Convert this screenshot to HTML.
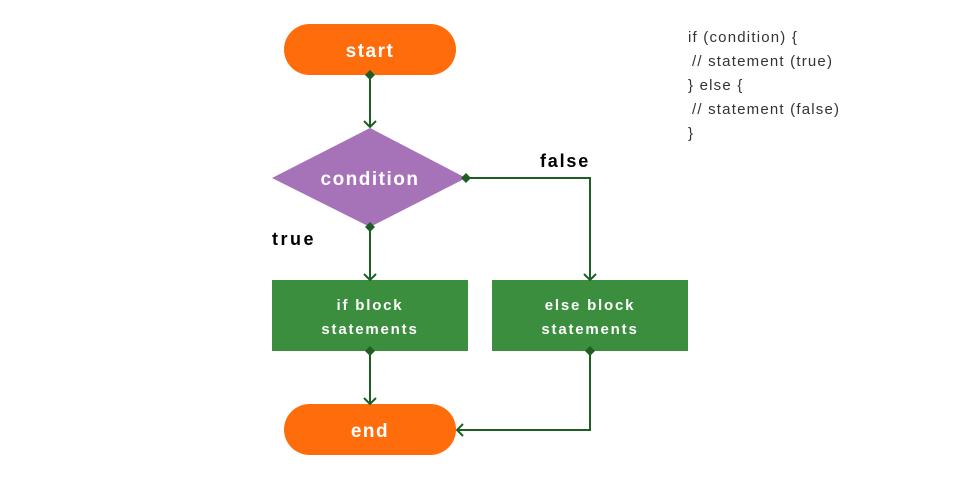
<!DOCTYPE html>
<html><head><style>body{margin:0;background:#fff}</style></head><body>
<svg width="960" height="480" xmlns="http://www.w3.org/2000/svg" font-family="Liberation Sans, sans-serif">
<rect width="960" height="480" fill="#fff"/>
<rect x="284" y="24" width="172" height="51" rx="25.5" fill="#ff6c0c"/>
<text x="370" y="57" text-anchor="middle" font-size="19" font-weight="bold" fill="#fff" letter-spacing="1.5">start</text>
<polygon points="370,128 466,178 370,227 272,178" fill="#a672b8"/>
<text x="370" y="185" text-anchor="middle" font-size="19" font-weight="bold" fill="#fff" letter-spacing="1.5">condition</text>
<rect x="272" y="280" width="196" height="71" fill="#3a8e3e"/>
<text x="370" y="310" text-anchor="middle" font-size="15" font-weight="bold" fill="#fff" letter-spacing="1.8">if block</text>
<text x="370" y="334" text-anchor="middle" font-size="15" font-weight="bold" fill="#fff" letter-spacing="1.8">statements</text>
<rect x="492" y="280" width="196" height="71" fill="#3a8e3e"/>
<text x="590" y="310" text-anchor="middle" font-size="15" font-weight="bold" fill="#fff" letter-spacing="1.8">else block</text>
<text x="590" y="334" text-anchor="middle" font-size="15" font-weight="bold" fill="#fff" letter-spacing="1.8">statements</text>
<rect x="284" y="404" width="172" height="51" rx="25.5" fill="#ff6c0c"/>
<text x="370" y="437" text-anchor="middle" font-size="19" font-weight="bold" fill="#fff" letter-spacing="1.5">end</text>
<g stroke="#1e5e22" stroke-width="2" fill="none">
<path d="M370 75V127M364 121l6 6 6-6"/>
<path d="M466 178H590V280M584 274l6 6 6-6"/>
<path d="M370 227V280M364 274l6 6 6-6"/>
<path d="M370 351V404M364 398l6 6 6-6"/>
<path d="M590 351V430H457M463 424l-6 6 6 6"/>
</g>
<g fill="#1e5e22">
<polygon points="370,70 375,75 370,80 365,75"/>
<polygon points="466,173 471,178 466,183 461,178"/>
<polygon points="370,222 375,227 370,232 365,227"/>
<polygon points="370,346 375,351 370,356 365,351"/>
<polygon points="590,346 595,351 590,356 585,351"/>
</g>
<text x="540" y="167" font-size="18" font-weight="bold" fill="#000" letter-spacing="1.8">false</text>
<text x="272" y="245" font-size="18" font-weight="bold" fill="#000" letter-spacing="2.5">true</text>
<g font-size="15" fill="#333" letter-spacing="1.2">
<text x="688" y="42">if (condition) {</text>
<text x="692" y="66">// statement (true)</text>
<text x="688" y="90">} else {</text>
<text x="692" y="114">// statement (false)</text>
<text x="688" y="138">}</text>
</g>
</svg>
</body></html>
